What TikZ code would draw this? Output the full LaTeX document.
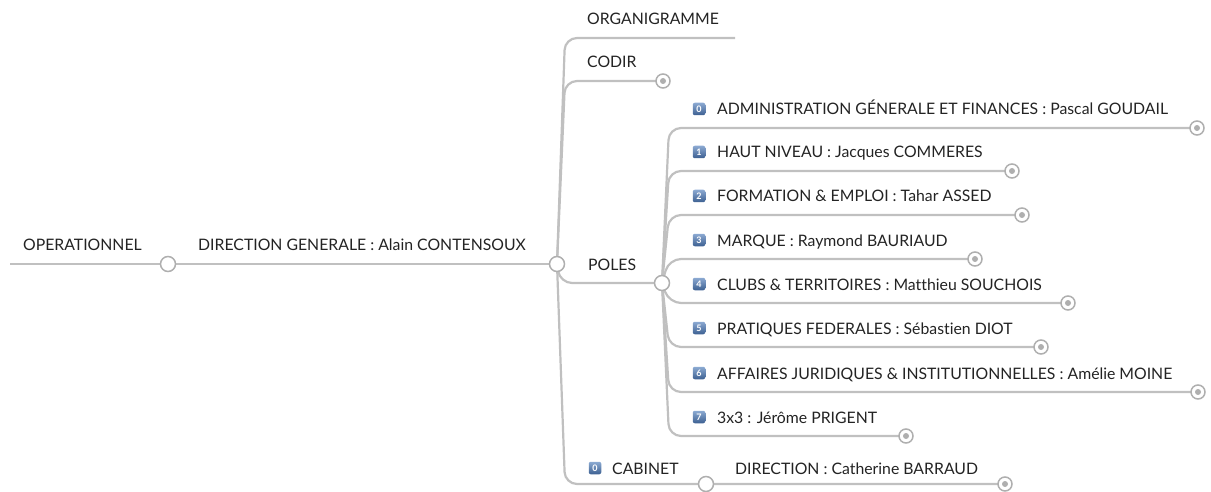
\documentclass[tikz,border=0pt]{standalone}
\usepackage{fontspec}
\setmainfont{Lato}[Ligatures=NoCommon]
\usepackage{tikz}
\usetikzlibrary{backgrounds}
\definecolor{branchgray}{RGB}{192,192,192}
\definecolor{knotgray}{RGB}{175,175,175}
\definecolor{inkgray}{RGB}{35,35,35}
\definecolor{badgetop}{RGB}{140,170,210}
\definecolor{badgebottom}{RGB}{60,95,145}

\begin{document}
\begin{tikzpicture}[x=1pt, y=-1pt, font=\fontsize{15.8}{18}\selectfont, text=inkgray,
		branch/.style={draw=branchgray, line width=2.2pt, rounded corners=12pt},
		knot/.style={circle, draw=knotgray, line width=1.5pt, fill=white, minimum size=15pt, inner sep=0pt},
		fold/.style={knot, minimum size=14pt, path picture={\fill[knotgray] (path picture bounding box.center) circle (3pt);}},
		txt/.style={anchor=base west, inner sep=0pt},
		badge/.style={rounded corners=2pt, minimum size=12.5pt, inner sep=0pt, top color=badgetop, bottom color=badgebottom, text=white, font=\fontsize{9}{9}\selectfont\bfseries}]
		\useasboundingbox (0,0) rectangle (1211,492);
		% trunk
		\coordinate (opStart) at (10,264);
		\node[knot] (opKnot) at (168,264) {};
		\node[knot] (root) at (557,264) {};
		\node[txt] (opText) at (23,251) {OPERATIONNEL};
		\node[txt] (dgText) at (198,251) {DIRECTION GENERALE : Alain CONTENSOUX};
		% first level
		\coordinate (orgEnd) at (735,38);
		\node[txt] (orgText) at (587,25) {ORGANIGRAMME};
		\node[fold] (codirEnd) at (663,81) {};
		\node[txt] (codirText) at (587,68) {CODIR};
		\node[knot] (poles) at (662,283) {};
		\node[txt] (polesText) at (588,270) {POLES};
		\node[knot] (cabKnot) at (706,484) {};
		\node[badge] (cabBadge) at (595,468) {0};
		\node[txt] (cabText) at (612,474) {CABINET};
		\node[fold] (dirEnd) at (1005,484) {};
		\node[txt] (dirText) at (735,474) {DIRECTION : Catherine BARRAUD};
		\begin{scope}[on background layer]
			\draw[branch] (opStart) -- (opKnot) -- (root);
			\draw[branch] (root.center) -- ([xshift=8pt]root.center |- orgEnd) -- (orgEnd);
			\draw[branch] (root.center) -- ([xshift=8pt]root.center |- codirEnd) -- (codirEnd.center);
			\draw[branch] (root.center) -- ([xshift=3pt]root.center |- poles) -- (poles.center);
			\draw[branch] (root.center) -- ([xshift=8pt]root.center |- cabKnot) -- (cabKnot.center) -- (dirEnd.center);
		\end{scope}
		% poles
		\foreach \i/\y/\xend/\name in {0/128/1197/{ADMINISTRATION GÉNERALE ET FINANCES : Pascal GOUDAIL},
				1/171/1012/{HAUT NIVEAU : Jacques COMMERES}, 2/215/1022/{FORMATION \& EMPLOI : Tahar ASSED},
				3/259/975/{MARQUE : Raymond BAURIAUD}, 4/303/1068/{CLUBS \& TERRITOIRES : Matthieu SOUCHOIS},
				5/347/1041/{PRATIQUES FEDERALES : Sébastien DIOT},
				6/392/1198/{AFFAIRES JURIDIQUES \& INSTITUTIONNELLES : Amélie MOINE},
				7/436/906/{3x3 : Jérôme PRIGENT}}{
			\node[fold] (pole\i) at (\xend,\y) {};
			\node[badge] (badge\i) at (699,\y-19) {\i};
			\node[txt] (poleText\i) at (717,\y-13) {\name};
			\begin{scope}[on background layer]
				\draw[branch] (poles.center) -- ([xshift=7pt]poles.center |- pole\i) -- (pole\i.center);
			\end{scope}
		}
	\end{tikzpicture}
\end{document}
